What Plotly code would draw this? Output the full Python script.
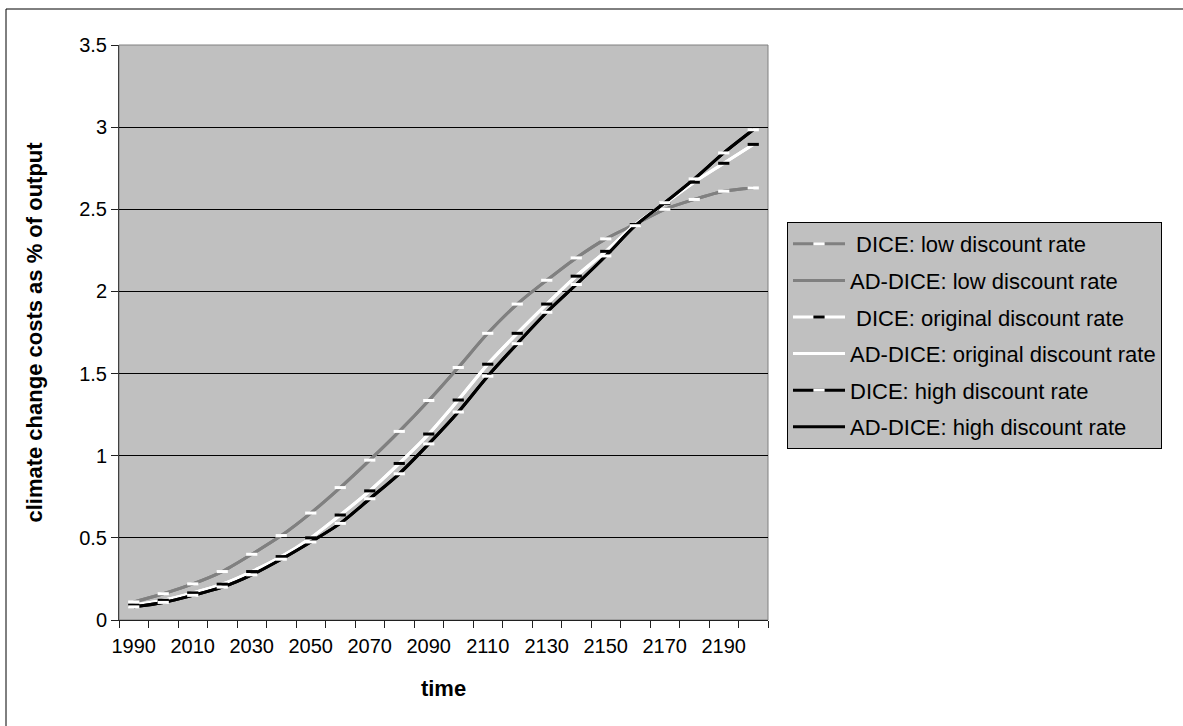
import plotly.graph_objects as go

years = list(range(1990, 2201, 10))

dice_low = [0.11, 0.16, 0.22, 0.295, 0.40, 0.514, 0.651, 0.806, 0.973, 1.148, 1.336,
            1.537, 1.745, 1.923, 2.068, 2.204, 2.32, 2.41, 2.50, 2.56, 2.61, 2.63]
addice_low = [0.11, 0.16, 0.22, 0.295, 0.40, 0.514, 0.651, 0.806, 0.973, 1.148, 1.336,
              1.537, 1.745, 1.923, 2.068, 2.204, 2.32, 2.41, 2.50, 2.56, 2.61, 2.63]
dice_orig = [0.09, 0.12, 0.165, 0.218, 0.295, 0.386, 0.50, 0.639, 0.786, 0.953, 1.132,
             1.339, 1.557, 1.745, 1.923, 2.093, 2.244, 2.408, 2.535, 2.665, 2.78, 2.895]
addice_orig = [0.09, 0.12, 0.165, 0.218, 0.295, 0.386, 0.50, 0.639, 0.786, 0.953, 1.132,
               1.339, 1.557, 1.745, 1.923, 2.093, 2.244, 2.408, 2.535, 2.665, 2.78, 2.895]
dice_high = [0.08, 0.107, 0.15, 0.20, 0.275, 0.37, 0.475, 0.588, 0.738, 0.89, 1.072,
             1.266, 1.484, 1.682, 1.873, 2.042, 2.216, 2.40, 2.54, 2.685, 2.843, 2.984]
addice_high = [0.08, 0.107, 0.15, 0.20, 0.275, 0.37, 0.475, 0.588, 0.738, 0.89, 1.072,
               1.266, 1.484, 1.682, 1.873, 2.042, 2.216, 2.40, 2.54, 2.685, 2.843, 2.984]

names = [" DICE: low discount rate", "AD-DICE: low discount rate",
         " DICE: original discount rate", "AD-DICE: original discount rate",
         "DICE: high discount rate", "AD-DICE: high discount rate"]

x_labels = list(range(1990, 2191, 20))
y_ticks = [0, 0.5, 1, 1.5, 2, 2.5, 3, 3.5]
y_ticktext = ["0", "0.5", "1", "1.5", "2", "2.5", "3", "3.5"]

GRAY = "#808080"
FONT = "Liberation Sans, Arial, sans-serif"

fig = go.Figure()

def add(y, name, color, rank, marker_color=None):
    kw = dict(x=years, y=y, name=name,
              line=dict(color=color, width=3, shape="spline", smoothing=0.8),
              legendrank=rank, legendgroup=name)
    if marker_color is None:
        fig.add_trace(go.Scatter(mode="lines", **kw))
    else:
        fig.add_trace(go.Scatter(
            mode="lines+markers",
            marker=dict(symbol="line-ew", size=8, color=marker_color,
                        line=dict(color=marker_color, width=3)),
            **kw))

add(addice_low, names[1], GRAY, 2)
add(dice_low, names[0], GRAY, 1, "white")
add(addice_orig, names[3], "white", 4)
add(dice_orig, names[2], "white", 3, "black")
add(addice_high, names[5], "black", 6)
add(dice_high, names[4], "black", 5, "white")

L, R, T, B = 119, 768, 45, 620
W, H = 1183, 726
pw, ph = R - L, B - T

def px(xp):
    return (xp - L) / pw

def py(yp):
    return (B - yp) / ph

fig.update_layout(
    width=W, height=H,
    margin=dict(l=L, r=W - R, t=T, b=H - B, autoexpand=False),
    paper_bgcolor="white",
    plot_bgcolor="#C0C0C0",
    font=dict(family=FONT, size=20, color="black"),
    showlegend=True,
    legend=dict(
        x=px(787), y=py(222), xanchor="left", yanchor="top",
        bgcolor="#C0C0C0", bordercolor="black", borderwidth=1,
        font=dict(family=FONT, size=22, color="black"),
        traceorder="grouped", tracegroupgap=5,
        itemwidth=52,
    ),
    xaxis=dict(
        range=[1985, 2205],
        tickmode="array", tickvals=x_labels, ticktext=[str(v) for v in x_labels],
        ticks="", showgrid=False, zeroline=False,
        showline=True, linecolor="#202020", linewidth=1,
        tickfont=dict(size=20), ticklabelstandoff=8,
        minor=dict(tick0=1985, dtick=10, ticks="outside", ticklen=7,
                   tickcolor="#202020", tickwidth=1, showgrid=False),
        title=dict(text="<b>time</b>", font=dict(size=22), standoff=24),
    ),
    yaxis=dict(
        range=[0, 3.5],
        tickmode="array", tickvals=y_ticks, ticktext=y_ticktext,
        ticks="outside", ticklen=7, tickcolor="#202020", tickwidth=1,
        showgrid=True, gridcolor="black", gridwidth=1, zeroline=False,
        showline=True, linecolor="#404040", linewidth=1,
        tickfont=dict(size=20),
        title=dict(text="<b>climate change costs as % of output</b>", font=dict(size=22), standoff=30),
    ),
    shapes=[
        dict(type="rect", xref="paper", yref="paper", x0=0, x1=1, y0=0, y1=1,
             line=dict(color=GRAY, width=1), layer="below"),
        dict(type="rect", xref="paper", yref="paper",
             x0=px(6), x1=px(1200), y0=py(740), y1=py(9),
             line=dict(color="black", width=1), layer="above"),
    ],
)

fig.write_html("out.html", config={"displayModeBar": False},
               post_script="document.body.style.margin='0px';")
